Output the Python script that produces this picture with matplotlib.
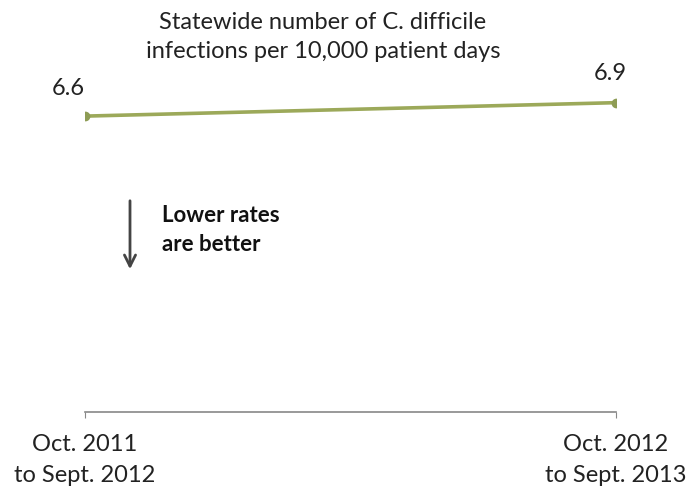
import matplotlib.pyplot as plt

periods = ["Oct. 2011\nto Sept. 2012", "Oct. 2012\nto Sept. 2013"]
rates = [6.6, 6.9]
rate_labels = ["6.6", "6.9"]

plt.rcParams['font.family'] = ['Lato', 'DejaVu Sans']

fig = plt.figure(figsize=(6.9, 5.03), dpi=100)
ax = fig.add_axes([85 / 690, 1 - 412 / 503, (616 - 85) / 690, 412 / 503])

xs = list(range(len(rates)))
ax.plot(xs, rates, color='#9CA95A', linewidth=2.6, marker='o', markersize=6,
        markerfacecolor='#8E9C55', markeredgecolor='#8E9C55', solid_capstyle='round')

# value labels above each point
ax.annotate(rate_labels[0], (xs[0], rates[0]), xytext=(-12, 20), textcoords='offset points',
            ha='center', va='center', fontsize=17, color='#222222')
ax.annotate(rate_labels[1], (xs[1], rates[1]), xytext=(-4, 21), textcoords='offset points',
            ha='center', va='center', fontsize=17, color='#222222')

ax.set_xlim(0, 1)
ax.set_ylim(0, 9.19)
ax.set_xticks(xs)
ax.set_xticklabels(periods, fontsize=17, color='#222222', linespacing=1.55)
ax.set_yticks([])
for s in ['top', 'right', 'left']:
    ax.spines[s].set_visible(False)
ax.spines['bottom'].set_color('#888888')
ax.spines['bottom'].set_linewidth(1.2)
ax.tick_params(axis='x', direction='out', length=4, color='#888888', pad=12)

fig.text(323 / 690, 1 - 37 / 503, "Statewide number of C. difficile\ninfections per 10,000 patient days",
         ha='center', va='center', fontsize=17, color='#222222', linespacing=1.5)

# direction hint
ax.annotate("", xy=(130 / 690, 1 - 272 / 503), xytext=(130 / 690, 1 - 198 / 503),
            xycoords='figure fraction', textcoords='figure fraction',
            arrowprops=dict(arrowstyle='->,head_length=0.8,head_width=0.4', color='#444444', lw=2))
fig.text(162 / 690, 1 - 230 / 503, "Lower rates\nare better", ha='left', va='center',
         fontsize=16, fontweight='bold', color='#111111', linespacing=1.45)

fig.savefig('out.png', dpi=100)
